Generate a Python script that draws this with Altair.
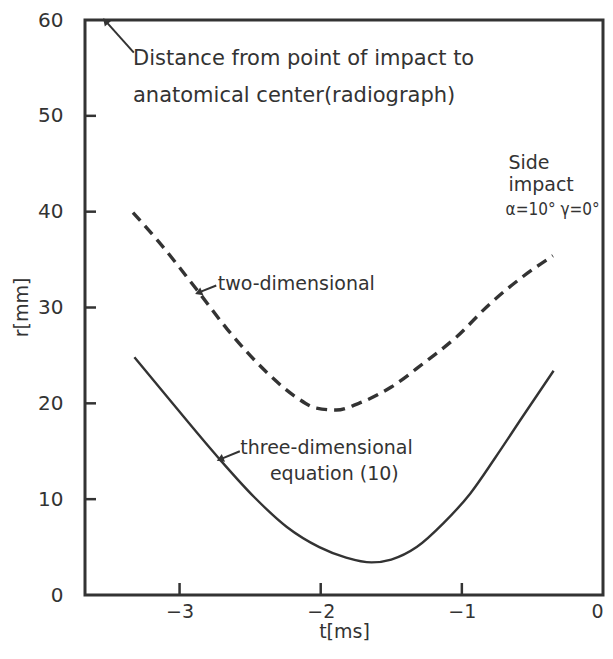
import altair as alt
import pandas as pd

# ---- data ----
t_2d = [-3.33, -3.15, -2.88, -2.66, -2.38, -2.17, -2.03, -1.89, -1.73,
        -1.50, -1.27, -1.04, -0.80, -0.57, -0.355]
r_2d = [39.9, 36.9, 31.9, 27.7, 23.2, 20.6, 19.5, 19.3, 20.0,
        21.7, 24.2, 26.9, 30.4, 33.2, 35.4]

t_3d = [-3.32, -3.05, -2.73, -2.47, -2.24, -2.01, -1.82, -1.64, -1.50,
        -1.32, -1.13, -0.94, -0.76, -0.57, -0.35]
r_3d = [24.8, 20.0, 14.4, 10.2, 7.1, 5.0, 3.9, 3.4, 3.7,
        5.0, 7.5, 10.6, 14.4, 18.6, 23.4]

x_ticks = [-3, -2, -1, 0]
y_ticks = [0, 10, 20, 30, 40, 50, 60]
x_inner_ticks = [-3, -2, -1]
y_inner_ticks = [10, 20, 30, 40, 50]

label_texts = ["Distance from point of impact to", "anatomical  center(radiograph)",
               "Side", "impact",
               "two-dimensional", "three-dimensional", "equation (10)"]
label_t = [-3.33, -3.33, -0.67, -0.67, -2.73, -2.57, -2.36]
label_r = [55.9, 52.1, 45.1, 42.8, 32.5, 15.3, 12.6]
label_size = [21, 21, 19, 19, 19, 19, 19]

angle_text = ["α=10° γ=0°"]
angle_t = [-0.69]
angle_r = [40.2]

arrow_t = [-3.324, -2.740, -2.573]
arrow_r = [56.6, 32.3, 15.0]
arrow_t2 = [-3.519, -2.858, -2.705]
arrow_r2 = [59.8, 31.6, 14.2]
arrow_angle = [318, 248, 247]

FONT = "DejaVu Sans"
NARROW = "DejaVu Sans Condensed, Liberation Sans Narrow, DejaVu Sans"
INK = "#333333"
W, H = 518, 575

xs = alt.Scale(domain=[-3.67, 0], nice=False, zero=False)
ys = alt.Scale(domain=[0, 60], nice=False)

curves = pd.DataFrame({
    "t": t_2d + t_3d,
    "r": r_2d + r_3d,
    "series": ["two-dimensional"] * len(t_2d) + ["three-dimensional"] * len(t_3d),
})

base_x = alt.X("t:Q", scale=xs, title="t[ms]",
               axis=alt.Axis(values=x_ticks, format="d", tickSize=0, domain=False,
                             grid=False, labelPadding=7, titlePadding=1,
                             labelFlush=True,
                             labelFontSize=19, titleFontSize=19, titleFontWeight="normal"))
base_y = alt.Y("r:Q", scale=ys, title="r[mm]",
               axis=alt.Axis(values=y_ticks, tickSize=0, domain=False, grid=False,
                             labelPadding=22, labelFontSize=20, titleFontSize=19,
                             labelFlush=False,
                             titleFontWeight="normal", titleAngle=270,
                             titleX=-64, titleY=287, titleAlign="center",
                             titleBaseline="middle"))

dashed = alt.Chart(curves[curves.series == "two-dimensional"]).mark_line(
    color=INK, strokeWidth=3.4, strokeDash=[11, 7], interpolate="monotone"
).encode(x=base_x, y=base_y)

solid = alt.Chart(curves[curves.series == "three-dimensional"]).mark_line(
    color=INK, strokeWidth=2.4, interpolate="monotone"
).encode(x="t:Q", y="r:Q")

frame = alt.Chart(pd.DataFrame({"k": [0]})).mark_rect(
    fill=None, stroke=INK, strokeWidth=3
).encode(x=alt.value(0), x2=alt.value(W), y=alt.value(0), y2=alt.value(H))

ytick_df = pd.DataFrame({"r": y_inner_ticks})
yticks = alt.Chart(ytick_df).mark_rule(color=INK, strokeWidth=2.5).encode(
    y=alt.Y("r:Q", scale=ys), x=alt.value(0), x2=alt.value(11))

xtick_df = pd.DataFrame({"t": x_inner_ticks})
xticks = alt.Chart(xtick_df).mark_rule(color=INK, strokeWidth=2.5).encode(
    x=alt.X("t:Q", scale=xs), y=alt.value(H), y2=alt.value(H - 12))

lab_df = pd.DataFrame({"text": label_texts, "t": label_t, "r": label_r,
                       "size": label_size})
labels = alt.Chart(lab_df).mark_text(
    align="left", baseline="middle", font=FONT, color=INK
).encode(x=alt.X("t:Q", scale=xs), y=alt.Y("r:Q", scale=ys), text="text:N",
         size=alt.Size("size:Q", scale=None))

ang_df = pd.DataFrame({"text": angle_text, "t": angle_t, "r": angle_r})
angle_lab = alt.Chart(ang_df).mark_text(
    align="left", baseline="middle", font=NARROW, fontSize=17, color=INK
).encode(x=alt.X("t:Q", scale=xs), y=alt.Y("r:Q", scale=ys), text="text:N")

arr_df = pd.DataFrame({"t": arrow_t, "r": arrow_r, "t2": arrow_t2,
                       "r2": arrow_r2, "angle": arrow_angle})
arrows = alt.Chart(arr_df).mark_rule(color=INK, strokeWidth=2).encode(
    x=alt.X("t:Q", scale=xs), y=alt.Y("r:Q", scale=ys), x2="t2:Q", y2="r2:Q")
heads = alt.Chart(arr_df).mark_point(
    shape="triangle", filled=True, color=INK, size=70, opacity=1
).encode(x=alt.X("t2:Q", scale=xs), y=alt.Y("r2:Q", scale=ys),
         angle=alt.Angle("angle:Q", scale=None))

chart = alt.layer(dashed, solid, frame, yticks, xticks, arrows, heads, labels,
                  angle_lab).properties(
    width=W, height=H,
    autosize=alt.AutoSizeParams(type="none"),
    padding={"left": 77, "top": 12, "right": 2, "bottom": 47},
    background="white",
).configure_view(
    stroke=None
).configure_axis(
    labelFont=FONT, titleFont=FONT, labelColor=INK, titleColor=INK
)

chart.save("out.html", embed_options={"renderer": "svg", "actions": False})
